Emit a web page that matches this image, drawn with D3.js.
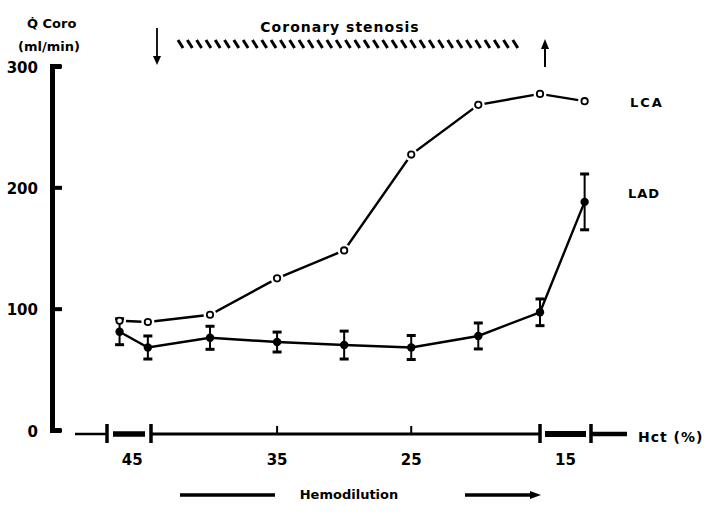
<!DOCTYPE html>
<html>
<head>
<meta charset="utf-8">
<script src="https://cdn.jsdelivr.net/npm/d3@7"></script>
<style>
  body { margin: 0; background: #fff; }
  text { font-family: "DejaVu Sans", sans-serif; font-weight: bold; fill: #000; }
</style>
</head>
<body>
<svg width="709" height="514"></svg>
<script>
// values
var hct = [45.4, 44.5, 40, 35, 30, 25, 20, 15.4, 14.7];
var lca = [90, 89, 95, 125, 148, 227, 268, 277, 271];
var lad = [81, 68, 76, 72.5, 70, 68, 77.5, 97, 188];
var ladErr = [10.7, 9.5, 9.5, 8.2, 11.5, 9.9, 10.7, 11, 23];
var hctTicks = [45, 35, 25, 15];
var hctMinor = [35, 25];
var hctBreaks = [45.8, 44.4, 15.4, 14.6];
var yTicks = [0, 100, 200, 300];

var svg = d3.select('svg');

// broken axis -> polylinear scale
var x = d3.scaleLinear()
  .domain([48, 45.8, 44.4, 15.4, 14.6, 12])
  .range([75, 107, 151, 540, 591, 627]);
var y = d3.scaleLinear().domain([0, 300]).range([430, 66]);
var axisY = 434;

// y axis, ticks pointing inward
var gy = svg.append('g')
  .attr('transform', 'translate(52,0)')
  .call(d3.axisLeft(y).tickValues(yTicks).tickSize(-10).tickSizeOuter(-9).tickPadding(14));
gy.select('.domain').attr('stroke-width', 5).attr('stroke', '#000');
gy.selectAll('.tick line').attr('stroke-width', 4).attr('stroke', '#000');
gy.selectAll('.tick text')
  .style('font-size', '15px')
  .attr('dy', '0.42em');

svg.append('text').attr('x', 27).attr('y', 28).style('font-size', '13px').text('Q\u0307 Coro');
svg.append('text').attr('x', 18).attr('y', 51).style('font-size', '13px').text('(ml/min)');

// x axis drawn in pieces
var segW = [2.5, 5.5, 3, 6, 4.5];
var segInset = [0, 6, 0, 5, 0];
d3.pairs(x.domain()).forEach(function(p, i) {
  svg.append('line')
    .attr('x1', x(p[0]) + segInset[i])
    .attr('x2', x(p[1]) - segInset[i])
    .attr('y1', axisY).attr('y2', axisY)
    .attr('stroke', '#000')
    .attr('stroke-width', segW[i]);
});
svg.selectAll('.brk')
  .data(hctBreaks)
  .enter().append('line')
  .attr('x1', function(d) { return x(d); })
  .attr('x2', function(d) { return x(d); })
  .attr('y1', axisY - 10).attr('y2', axisY + 9)
  .attr('stroke', '#000').attr('stroke-width', 3.5);
svg.selectAll('.minor')
  .data(hctMinor)
  .enter().append('line')
  .attr('x1', function(d) { return x(d); })
  .attr('x2', function(d) { return x(d); })
  .attr('y1', axisY).attr('y2', axisY - 8)
  .attr('stroke', '#000').attr('stroke-width', 2);
svg.selectAll('.xlab')
  .data(hctTicks)
  .enter().append('text')
  .attr('x', function(d) { return x(d); })
  .attr('y', axisY + 31)
  .attr('text-anchor', 'middle')
  .style('font-size', '15px')
  .text(function(d) { return d; });
svg.append('text').attr('x', 638).attr('y', 442)
  .style('font-size', '14px').style('letter-spacing', '1px').text('Hct (%)');

// stenosis marker
svg.append('text').attr('x', 340).attr('y', 32).attr('text-anchor', 'middle')
  .style('font-size', '14px').style('letter-spacing', '1px').text('Coronary  stenosis');
svg.selectAll('.hatch')
  .data(d3.range(178, 520, 9.3))
  .enter().append('line')
  .attr('x1', function(d) { return d; })
  .attr('x2', function(d) { return d + 5; })
  .attr('y1', 40).attr('y2', 48)
  .attr('stroke', '#000').attr('stroke-width', 3);

svg.append('line').attr('x1', 157).attr('x2', 157).attr('y1', 28).attr('y2', 58)
  .attr('stroke', '#000').attr('stroke-width', 1.8);
svg.append('path').attr('d', 'M153,56L161,56L157,65Z');
svg.append('line').attr('x1', 545).attr('x2', 545).attr('y1', 47).attr('y2', 67)
  .attr('stroke', '#000').attr('stroke-width', 2);
svg.append('path').attr('d', 'M541,49L549,49L545,39Z');

// data lines
var line = d3.line()
  .x(function(d) { return x(d[0]); })
  .y(function(d) { return y(d[1]); });

svg.append('path')
  .datum(d3.zip(hct, lca))
  .attr('d', line)
  .attr('fill', 'none').attr('stroke', '#000').attr('stroke-width', 2.4);

// white halo round the open circles, so the line stops short of them
svg.append('g').selectAll('circle')
  .data(d3.zip(hct, lca))
  .enter().append('circle')
  .attr('cx', function(d) { return x(d[0]); })
  .attr('cy', function(d) { return y(d[1]); })
  .attr('r', 6.5).attr('fill', '#fff');

svg.append('path')
  .datum(d3.zip(hct, lad))
  .attr('d', line)
  .attr('fill', 'none').attr('stroke', '#000').attr('stroke-width', 2.4);

// LAD error bars + dots
var ladPts = svg.append('g').selectAll('g')
  .data(d3.zip(hct, lad, ladErr))
  .enter().append('g')
  .attr('transform', function(d) { return 'translate(' + x(d[0]) + ',0)'; });
ladPts.append('line')
  .attr('y1', function(d) { return y(d[1] - d[2]); })
  .attr('y2', function(d) { return y(d[1] + d[2]); })
  .attr('stroke', '#000').attr('stroke-width', 2);
ladPts.append('line')
  .attr('x1', -4.5).attr('x2', 4.5)
  .attr('y1', function(d) { return y(d[1] + d[2]); })
  .attr('y2', function(d) { return y(d[1] + d[2]); })
  .attr('stroke', '#000').attr('stroke-width', 3);
ladPts.append('line')
  .attr('x1', -4.5).attr('x2', 4.5)
  .attr('y1', function(d) { return y(d[1] - d[2]); })
  .attr('y2', function(d) { return y(d[1] - d[2]); })
  .attr('stroke', '#000').attr('stroke-width', 3);
ladPts.append('circle')
  .attr('cy', function(d) { return y(d[1]); })
  .attr('r', 4.2).attr('fill', '#000');

// LCA open circles on top
svg.append('g').selectAll('circle')
  .data(d3.zip(hct, lca))
  .enter().append('circle')
  .attr('cx', function(d) { return x(d[0]); })
  .attr('cy', function(d) { return y(d[1]); })
  .attr('r', 3.2).attr('fill', '#fff').attr('stroke', '#000').attr('stroke-width', 1.8);

// series labels
svg.append('text').attr('x', 630).attr('y', 107).style('font-size', '13px')
  .style('letter-spacing', '2px').text('LCA');
svg.append('text').attr('x', 628).attr('y', 198).style('font-size', '13px')
  .style('letter-spacing', '1px').text('LAD');

// hemodilution arrow
svg.append('text').attr('x', 349).attr('y', 499).attr('text-anchor', 'middle')
  .style('font-size', '13px').text('Hemodilution');
svg.append('line').attr('x1', 180).attr('x2', 275).attr('y1', 495).attr('y2', 495)
  .attr('stroke', '#000').attr('stroke-width', 3.5);
svg.append('line').attr('x1', 465).attr('x2', 530).attr('y1', 495).attr('y2', 495)
  .attr('stroke', '#000').attr('stroke-width', 3.5);
svg.append('path').attr('d', 'M530,491L541,495L530,499Z');
</script>
</body>
</html>
